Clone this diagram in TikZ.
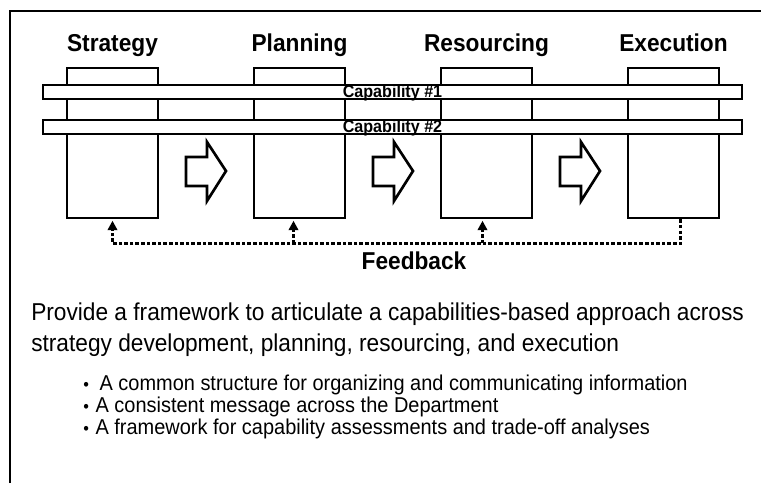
\documentclass[tikz,border=0pt]{standalone}
\usepackage{fontspec}
\setmainfont[FakeStretch=0.93]{Liberation Sans}
\usetikzlibrary{arrows.meta,positioning}

\begin{document}
\begin{tikzpicture}[x=0.75pt,y=-0.75pt,node distance=140.25pt]
		\tikzstyle{phase}=[draw,line width=2.1pt,minimum width=68.25pt,minimum height=112.5pt,inner sep=0pt]
		\tikzstyle{title}=[font=\fontsize{18.3}{21}\selectfont\bfseries,anchor=base,inner sep=0pt]
		\tikzstyle{capbar}=[draw,fill=white,line width=1.3pt,minimum width=524.25pt,minimum height=10.5pt,inner sep=0pt,text height=9pt,text depth=1.5pt,font=\fontsize{13}{14}\selectfont\bfseries]
		\tikzstyle{flow}=[draw,fill=white,line width=2pt,line join=miter]
		\tikzstyle{feedback}=[line width=2.6pt,dash pattern=on 2.6pt off 1.6pt,shorten >=1pt,-{Triangle[length=7pt,width=7pt]}]
		\tikzstyle{body}=[font=\fontsize{18.3}{23}\selectfont,anchor=base west,inner sep=0pt]
		\tikzstyle{point}=[font=\fontsize{16.1}{16.5}\selectfont,anchor=base west,inner sep=0pt]
		
		\useasboundingbox (0,0) rectangle (761,483);
		\draw[line width=2.2pt] (10,483) -- (10,11) -- (761,11);
		
		\node[phase] (0) at (112.5,143) {};
		\node[phase] (1) [right of=0] {};
		\node[phase] (2) [right of=1] {};
		\node[phase] (3) [right of=2] {};
		
		\node[title] (t0) at ([yshift=11.25pt]0.north) {Strategy};
		\node[title] (t1) at ([yshift=11.25pt]1.north) {Planning};
		\node[title] (t2) at ([yshift=11.25pt]2.north) {Resourcing};
		\node[title] (t3) at ([yshift=11.25pt]3.north) {Execution};
		
		\node[capbar] (c1) at (392.5,92) {Capability \#1};
		\node[capbar] (c2) at (392.5,127) {Capability \#2};
		
		\path (0.east) -- coordinate (a0) (1.west)
		(1.east) -- coordinate (a1) (2.west)
		(2.east) -- coordinate (a2) (3.west);
		\foreach \a in {a0,a1,a2}
		\draw[flow] ([shift={(-20,14)}]\a) -- ++(21,0) -- ++(0,-15) -- ++(19,29) -- ++(-19,30) -- ++(0,-15) -- ++(-21,0) -- cycle;
		
		\draw[feedback] ([xshift=5.25pt]3.south) -- ++(0,24) -| (0.south);
		\draw[feedback] ([xshift=-4.5pt]1.south) ++(0,24) -- ++(0,-24);
		\draw[feedback] ([xshift=-3pt]2.south) ++(0,24) -- ++(0,-24);
		\node[title] (fb) at (414,269) {Feedback};
		
		\node[body] (p0) at (31,320) {Provide a framework to articulate a capabilities-based approach across};
		\node[body] (p1) at (31,351) {strategy development, planning, resourcing, and execution};
		
		\node[point] (b0) at (83,390) {{\fontsize{13}{14}\selectfont\textbullet}\hspace{8pt}A common structure for organizing and communicating information};
		\node[point] (b1) at (83,412) {{\fontsize{13}{14}\selectfont\textbullet}\hspace{5pt}A consistent message across the Department};
		\node[point] (b2) at (83,434) {{\fontsize{13}{14}\selectfont\textbullet}\hspace{5pt}A framework for capability assessments and trade-off analyses};
	\end{tikzpicture}
\end{document}
